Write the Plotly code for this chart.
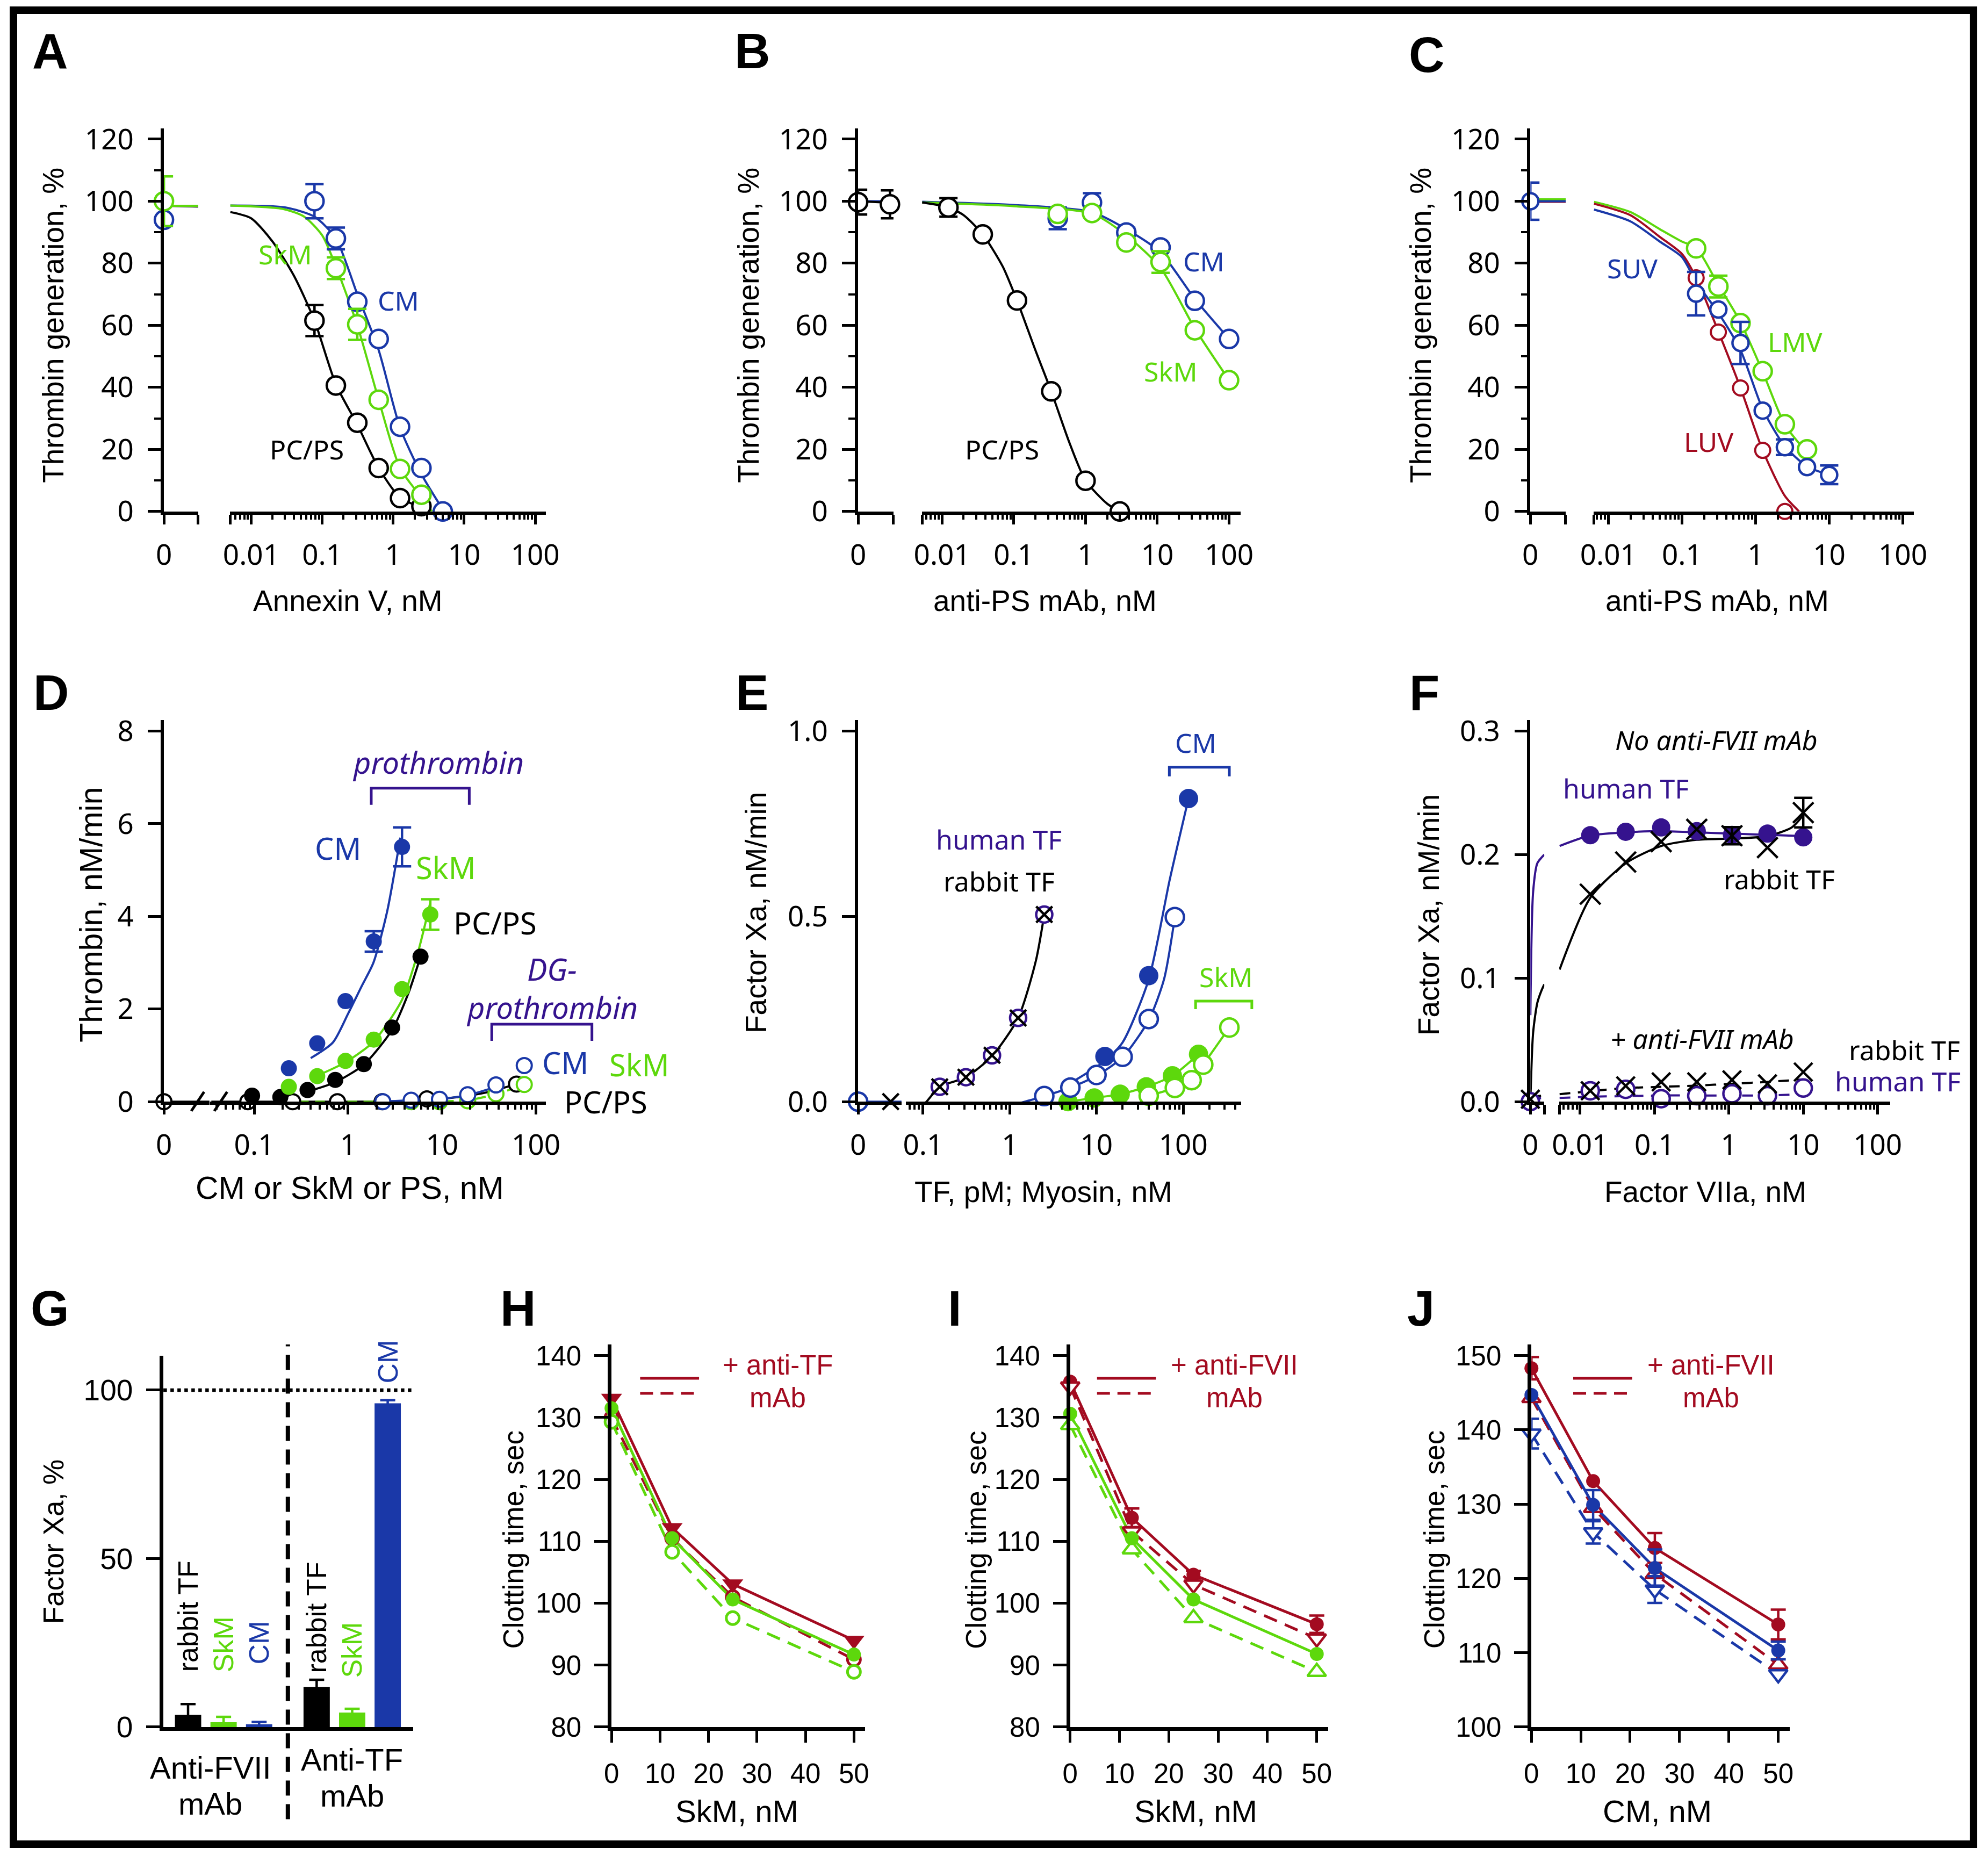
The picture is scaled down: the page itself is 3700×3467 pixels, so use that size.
import math
import plotly.graph_objects as go

W, H = 3700, 3467
# the page photograph comes out slightly inset and scaled; positions below are
# given in reference pixels and mapped through this correction
SX, OX = 0.989, 14
SY, OY = 0.986, 14

BLUE = "#1a38a8"
GREEN = "#5dd80c"
RED = "#a30b20"
PURPLE = "#35138e"
BLACK = "#000000"

SANS = "Noto Sans"
ARIAL = "Liberation Sans"

# ======================
# DATA
# ======================
# A - Annexin V
a_pcps_x = [0.078, 0.156, 0.3125, 0.625, 1.25, 2.5]
a_pcps_y = [61.5, 40.6, 28.6, 14.0, 4.3, 1.7]
a_pcps_err = [5, None, None, None, None, None]
a_skm_x = [0, 0.156, 0.3125, 0.625, 1.25, 2.5]
a_skm_y = [100, 78.4, 60.3, 36.0, 13.7, 5.4]
a_skm_err = [8, 3.5, 5, None, None, None]
a_cm_x = [0, 0.078, 0.156, 0.3125, 0.625, 1.25, 2.5, 5]
a_cm_y = [94, 100, 88, 67.6, 55.6, 27.3, 14, 0]
a_cm_err = [None, 5.5, 3.5, None, None, None, None, None]
a_pcps_fit_x = [0, 0.001, 0.0051, 0.01, 0.02, 0.04, 0.078, 0.156, 0.3125, 0.625, 1.25, 2.5, 3.2]
a_pcps_fit_y = [98.5, 98.3, 96.5, 94.5, 87, 76, 61.5, 41, 28, 14, 4.5, 1.2, 0]
a_skm_fit_x = [0, 0.001, 0.0051, 0.028, 0.056, 0.1, 0.156, 0.3125, 0.625, 1.25, 2.5, 3.5]
a_skm_fit_y = [98.5, 98.5, 98.6, 97.5, 95, 89, 79, 60, 36, 14, 4.5, 0]
a_cm_fit_x = [0.0051, 0.03, 0.078, 0.156, 0.3125, 0.625, 1.25, 2.5, 5.2]
a_cm_fit_y = [98.6, 98, 95, 88, 70, 52, 27, 12, 0]

# B - anti-PS mAb
b_pcps_x = [0, 0.0009, 0.0123, 0.037, 0.111, 0.333, 1, 3]
b_pcps_y = [99.7, 99, 98, 89.3, 68, 38.7, 9.9, 0]
b_pcps_err = [4, 4.5, 3, None, None, None, None, None]
b_myo_x = [0.41, 1.23, 3.7, 11.1, 33.3, 100]
b_cm_y = [94.5, 99.6, 89.9, 85.1, 67.9, 55.6]
b_cm_err = [3.5, 3, 1.5, None, None, None]
b_skm_y = [95.9, 96.2, 86.7, 80.4, 58.4, 42.3]
b_skm_err = [None, None, None, 3.5, None, None]
b_pcps_fit_x = [0, 0.0009, 0.0053, 0.0123, 0.02, 0.037, 0.07, 0.111, 0.2, 0.333, 0.6, 1, 2, 3]
b_pcps_fit_y = [100, 99.5, 99.6, 98, 95.5, 89.3, 79, 68, 52, 38.7, 22, 10, 2.5, 0]
b_cm_fit_x = [0, 0.0009, 0.0053, 0.1, 1.23, 3.7, 11.1, 33.3, 100]
b_cm_fit_y = [100, 100, 99.8, 98.8, 96.5, 91, 83.5, 68.5, 55.6]
b_skm_fit_x = [0.0053, 0.1, 1.23, 3.7, 11.1, 33.3, 100]
b_skm_fit_y = [99.6, 98.4, 96, 89, 78.5, 59, 42.3]

# C - vesicle size
c_luv_x = [0.156, 0.3125, 0.625, 1.25, 2.5]
c_luv_y = [75.3, 57.8, 39.8, 19.7, 0]
c_suv_x = [0, 0.156, 0.3125, 0.625, 1.25, 2.5, 5, 10]
c_suv_y = [100, 70.2, 65.1, 54.3, 32.5, 20.7, 14.3, 11.8]
c_suv_err = [6, 7, None, 6.8, None, 2.5, None, 3]
c_lmv_x = [0.156, 0.3125, 0.625, 1.25, 2.5, 5]
c_lmv_y = [84.8, 72.5, 60.7, 45.2, 28.1, 20]
c_lmv_err = [None, 3.5, None, None, None, None]
c_luv_fit_x = [0, 0.001, 0.0064, 0.02, 0.05, 0.1, 0.156, 0.3125, 0.625, 1.25, 2.5, 3.9]
c_luv_fit_y = [99.8, 99.8, 99.2, 95.5, 88.5, 83, 75.3, 58, 39.8, 19.7, 5, 0]
c_suv_fit_x = [0, 0.001, 0.0064, 0.02, 0.05, 0.1, 0.156, 0.3125, 0.625, 1.25, 2.5, 5, 10]
c_suv_fit_y = [100, 100, 97.3, 93.5, 87, 82, 74, 64, 52, 33, 21, 14.5, 11.8]
c_lmv_fit_x = [0, 0.001, 0.0064, 0.02, 0.05, 0.1, 0.156, 0.3125, 0.625, 1.25, 2.5, 5]
c_lmv_fit_y = [100.6, 100.6, 99.8, 96.5, 91, 87, 85, 73, 61, 45, 28, 19]

# D - thrombin formation, prothrombin (filled) and DG-prothrombin (open)
d_cm_x = [0.234, 0.469, 0.9375, 1.875, 3.75]
d_cm_y = [0.72, 1.26, 2.17, 3.46, 5.5]
d_cm_err = [None, None, None, 0.22, 0.42]
d_skm_x = [0.234, 0.469, 0.9375, 1.875, 3.75, 7.5]
d_skm_y = [0.32, 0.55, 0.88, 1.34, 2.43, 4.04]
d_skm_err = [None, None, None, None, None, 0.33]
d_pcps_x = [0.095, 0.19, 0.37, 0.73, 1.47, 2.94, 5.9]
d_pcps_y = [0.13, 0.10, 0.25, 0.47, 0.81, 1.60, 3.13]
d_cm_fit_x = [0.40, 0.69, 1.0, 1.4, 1.86, 2.6, 3.6]
d_cm_fit_y = [0.94, 1.28, 1.9, 2.5, 3.0, 4.1, 5.7]
d_skm_fit_x = [0.40, 0.9375, 1.875, 3.75, 5.5, 7.5]
d_skm_fit_y = [0.5, 0.85, 1.3, 2.2, 3.2, 4.3]
d_pcps_fit_x = [0.37, 0.73, 1.47, 2.94, 4.4, 5.9]
d_pcps_fit_y = [0.22, 0.42, 0.80, 1.55, 2.35, 3.13]
d_dg_pcps_x = [0, 0.0857, 0.257, 0.77, 2.3, 6.9, 62]
d_dg_pcps_y = [0, 0, 0, 0, 0, 0.06, 0.38]
d_dg_cm_x = [2.34, 4.69, 9.4, 18.75, 37.5, 75]
d_dg_cm_y = [0, 0.03, 0.05, 0.15, 0.36, 0.78]
d_dg_skm_x = [4.69, 9.4, 18.75, 37.5, 75]
d_dg_skm_y = [0, 0, 0.02, 0.17, 0.37]
d_dg_pcps_fit_x = [0, 0.03, 0.035, 5, 15, 30, 62]
d_dg_pcps_fit_y = [0, 0, 0, 0.02, 0.1, 0.2, 0.38]
d_dg_cm_fit_x = [2.34, 4.69, 9.4, 18.75, 37.5]
d_dg_cm_fit_y = [0, 0.03, 0.06, 0.14, 0.32]
d_dg_skm_fit_x = [0.3, 4.69, 9.4, 18.75, 37.5, 75]
d_dg_skm_fit_y = [0, 0, 0.005, 0.03, 0.16, 0.37]

# E - factor Xa generation vs TF / myosin
e_tf_x = [0.156, 0.3125, 0.625, 1.25, 2.5]
e_human_y = [0.04, 0.066, 0.125, 0.226, 0.505]
e_rabbit_x = [0.045, 0.156, 0.3125, 0.625, 1.25, 2.5]
e_rabbit_y = [0, 0.04, 0.066, 0.125, 0.226, 0.505]
e_rabbit_fit_x = [0.07, 0.1, 0.156, 0.3125, 0.625, 1.25, 2.0, 2.5]
e_rabbit_fit_y = [-0.03, -0.01, 0.04, 0.066, 0.123, 0.226, 0.38, 0.505]
e_cm_open_x = [0, 1.25, 2.5, 5, 10, 20, 40, 80]
e_cm_open_y = [0, -0.005, 0.015, 0.038, 0.072, 0.121, 0.223, 0.498]
e_cm_open_fit_x = [0, 0.06, 1.25, 2.5, 5, 10, 20, 40, 60, 80]
e_cm_open_fit_y = [0, 0, -0.005, 0.015, 0.038, 0.07, 0.12, 0.22, 0.33, 0.498]
e_cm_fill_x = [12.5, 40, 115]
e_cm_fill_y = [0.122, 0.34, 0.818]
e_cm_fill_fit_x = [5, 12.5, 20, 40, 70, 115]
e_cm_fill_fit_y = [0.05, 0.11, 0.16, 0.33, 0.6, 0.818]
e_skm_fill_x = [4.7, 9.4, 18.75, 37.5, 75, 150]
e_skm_fill_y = [0, 0.01, 0.02, 0.04, 0.07, 0.128]
e_skm_open_x = [40, 80, 125, 170, 340]
e_skm_open_y = [0.016, 0.037, 0.058, 0.1, 0.2]

# F - factor VIIa titration
f_x = [0.0137, 0.041, 0.123, 0.37, 1.1, 3.3, 10]
f_human_y = [0.2157, 0.2185, 0.222, 0.219, 0.216, 0.217, 0.214]
f_rabbit_y = [0.168, 0.194, 0.2105, 0.2205, 0.2153, 0.2057, 0.234]
f_rabbit_err = [None, None, None, None, 0.007, None, 0.012]
f_mab_x = [0, 0.0137, 0.041, 0.123, 0.37, 1.1, 3.3, 10]
f_human_mab_y = [0, 0.0088, 0.010, 0.0024, 0.0048, 0.0064, 0.0048, 0.011]
f_rabbit_mab_y = [0.002, 0.0088, 0.0128, 0.016, 0.016, 0.0176, 0.0144, 0.024]
f_human_fit_x = [0, 0.0002, 0.0005, 0.001, 0.0053, 0.0137, 0.041, 0.123, 0.37, 1.1, 3.3, 10]
f_human_fit_y = [0.07, 0.17, 0.193, 0.2, 0.207, 0.2155, 0.218, 0.219, 0.218, 0.217, 0.216, 0.215]
f_rabbit_fit_x = [0, 0.0002, 0.0005, 0.0008, 0.001, 0.0053, 0.0137, 0.041, 0.123, 0.37, 1.1, 3.3, 7, 10]
f_rabbit_fit_y = [0, 0.056, 0.08, 0.09, 0.095, 0.107, 0.165, 0.193, 0.207, 0.212, 0.213, 0.215, 0.222, 0.232]
f_mab_fit_x = [0, 0.001, 0.0053, 0.0137, 0.041, 0.123, 0.37, 1.1, 3.3, 10]
f_rabbit_mab_fit_y = [0.004, 0.005, 0.006, 0.0085, 0.011, 0.012, 0.013, 0.0145, 0.016, 0.018]
f_human_mab_fit_y = [0.002, 0.003, 0.003, 0.004, 0.0045, 0.005, 0.005, 0.005, 0.005, 0.006]

# G - inhibition by antibodies
g_groups = ["Anti-FVII", "Anti-TF"]
g_labels = ["rabbit TF", "SkM", "CM", "rabbit TF", "SkM", "CM"]
g_vals = [3.6, 1.4, 0.8, 11.9, 4.3, 96.1]
g_errs = [3.2, 1.6, 0.7, 2.1, 1.1, 0.9]

# H, I, J - clotting times
hij_x = [0, 12.5, 25, 50]
h_red_fill = [133.1, 112.2, 103.1, 94.0]
h_red_open = [130.0, 110.5, 101.0, 90.9]
h_grn_fill = [131.5, 110.5, 100.6, 91.7]
h_grn_open = [129.3, 108.3, 97.6, 88.9]
i_red_fill = [135.8, 113.8, 104.6, 96.6]
i_red_fill_err = [None, 1.5, 0.6, 1.4]
i_red_open = [135.0, 111.6, 103.0, 94.3]
i_grn_fill = [130.6, 110.5, 100.6, 91.8]
i_grn_open = [128.8, 108.7, 97.6, 88.9]
j_red_fill = [148.3, 133.1, 124.1, 113.8]
j_red_fill_err = [1.5, None, 2.0, 2.0]
j_red_open = [144.3, 129.5, 120.6, 108.4]
j_blu_fill = [144.7, 129.9, 121.4, 110.3]
j_blu_fill_err = [None, 2.0, 2.5, 1.2]
j_blu_open = [139.5, 126.2, 118.5, 107.1]
j_blu_open_err = [2.0, 1.5, 1.8, None]

# ======================
# HELPERS
# ======================
fig = go.Figure()
layout = dict(width=W, height=H, autosize=False, margin=dict(l=0, r=0, t=0, b=0, pad=0),
              paper_bgcolor="white", plot_bgcolor="rgba(0,0,0,0)",
              showlegend=False, font=dict(family=SANS, color=BLACK))
annotations = []
shapes = []


def px(x):
    return (x - OX) / SX / W


def py(y):
    return 1 - (y - OY) / SY / H


def ref(kind, n):
    return kind if n == 1 else f"{kind}{n}"


def key(kind, n):
    return f"{kind}axis" if n == 1 else f"{kind}axis{n}"


LINE = dict(showline=True, linecolor=BLACK, showgrid=False, zeroline=False,
            ticks="outside", tickcolor=BLACK)


def broken_panel(ny, nl, nr, left_px, right_px, lmax, log_rng, ybot, ytop, y_rng, ydt,
                 yminor=None, yfmt=None, stub_tick=True, start_tick=True):
    tf = dict(family=SANS, size=53, color=BLACK)
    yax = dict(LINE, domain=[py(ybot), py(ytop)], range=y_rng, anchor=ref("x", nl),
               tickmode="linear", tick0=0, dtick=ydt, linewidth=5.5, tickwidth=4.5,
               ticklen=24, tickfont=tf, ticklabelstandoff=16)
    if yminor:
        yax["minor"] = dict(dtick=yminor, ticklen=12, tickwidth=4, ticks="outside",
                            tickcolor=BLACK, showgrid=False)
    if yfmt:
        yax["tickformat"] = yfmt
    layout[key("y", ny)] = yax

    tv = [0, lmax * 0.999] if stub_tick else [0]
    layout[key("x", nl)] = dict(LINE, domain=[px(left_px[0]), px(left_px[1])], range=[0, lmax],
                                anchor=ref("y", ny), tickmode="array", tickvals=tv,
                                ticktext=["0", ""][:len(tv)], linewidth=5.5, tickwidth=4.5,
                                ticklen=18, tickfont=tf, ticklabelstandoff=12)
    lo, hi = log_rng
    majors = [10.0 ** k for k in range(math.ceil(lo), math.floor(hi) + 1)]
    minors = [m * 10.0 ** k for k in range(math.floor(lo), math.ceil(hi))
              for m in range(2, 10) if lo < math.log10(m) + k < hi]
    tv = list(majors)
    tt = [f"{v:g}" for v in majors]
    if start_tick:
        tv = [10 ** (lo + 0.004)] + tv
        tt = [""] + tt
    layout[key("x", nr)] = dict(LINE, type="log", domain=[px(right_px[0]), px(right_px[1])],
                                range=[lo, hi], anchor=ref("y", ny), tickmode="array",
                                tickvals=tv, ticktext=tt, linewidth=5.5, tickwidth=4.5,
                                ticklen=18, tickfont=tf, ticklabelstandoff=12,
                                minor=dict(tickmode="array", tickvals=minors, ticklen=9,
                                           tickwidth=3.5, ticks="outside", tickcolor=BLACK,
                                           showgrid=False))
    return dict(y=ref("y", ny), left=ref("x", nl), right=ref("x", nr), lmax=lmax)


def linear_panel(ny, nx, x_px, x_rng, ybot, ytop, y_rng, ydt, xdt=None):
    tf = dict(family=ARIAL, size=51, color=BLACK)
    layout[key("y", ny)] = dict(LINE, domain=[py(ybot), py(ytop)], range=y_rng,
                                anchor=ref("x", nx), tickmode="linear", tick0=0, dtick=ydt,
                                linewidth=6.5, tickwidth=5, ticklen=25, tickfont=tf,
                                ticklabelstandoff=14)
    xax = dict(LINE, domain=[px(x_px[0]), px(x_px[1])], range=x_rng, anchor=ref("y", ny),
               linewidth=6.5, tickfont=tf)
    if xdt:
        xax.update(tickmode="linear", tick0=0, dtick=xdt, tickwidth=5, ticklen=22,
                   ticklabelstandoff=14)
    else:
        xax.update(ticks="", showticklabels=False)
    layout[key("x", nx)] = xax
    return dict(y=ref("y", ny), x=ref("x", nx))


def parts(p, xs, *cols):
    if "left" not in p:
        return [(p["x"], list(xs), [list(c) for c in cols])]
    out = []
    for ax, on_left in ((p["left"], True), (p["right"], False)):
        idx = [i for i, v in enumerate(xs) if (v <= p["lmax"]) == on_left]
        if idx:
            out.append((ax, [xs[i] for i in idx], [[c[i] for i in idx] for c in cols]))
    return out


def curve(p, xs, ys, color, width=4, dash="solid", shape="spline"):
    for ax, sx, (sy,) in parts(p, xs, ys):
        fig.add_trace(go.Scatter(x=sx, y=sy, xaxis=ax, yaxis=p["y"], mode="lines",
                                 line=dict(color=color, width=width, dash=dash, shape=shape,
                                           smoothing=0.7),
                                 hoverinfo="skip"))


def points(p, xs, ys, color, symbol="circle", size=34, filled=False, err=None, lw=4.5,
           cap=17, errw=4.5):
    if err is not None:
        for ax, sx, (sy, se) in parts(p, xs, ys, err):
            keep = [i for i, e in enumerate(se) if e]
            if keep:
                fig.add_trace(go.Scatter(
                    x=[sx[i] for i in keep], y=[sy[i] for i in keep], xaxis=ax, yaxis=p["y"],
                    mode="markers", marker=dict(size=1, color="rgba(0,0,0,0)"),
                    error_y=dict(type="data", array=[se[i] for i in keep], color=color,
                                 thickness=errw, width=cap),
                    cliponaxis=False, hoverinfo="skip"))
    for ax, sx, (sy,) in parts(p, xs, ys):
        if symbol.startswith("x"):
            marker = dict(symbol=symbol, size=size, line=dict(color=color, width=lw))
        else:
            marker = dict(symbol=symbol, size=size, color=color if filled else "white",
                          line=dict(color=color, width=lw))
        fig.add_trace(go.Scatter(x=sx, y=sy, xaxis=ax, yaxis=p["y"], mode="markers",
                                 marker=marker, cliponaxis=False, hoverinfo="skip"))


def text(s, x, y, color=BLACK, size=50, family=SANS, angle=0, xref="paper"):
    annotations.append(dict(text=s, x=px(x) if xref == "paper" else x, y=py(y),
                            xref=xref, yref="paper", showarrow=False, textangle=angle,
                            xanchor="center", yanchor="middle",
                            font=dict(family=family, size=size, color=color)))


def title(s, x, y, size=55, angle=0):
    text(s, x, y, size=size, family=ARIAL, angle=angle)


def bracket(x0, x1, ytop, ybot, color):
    shapes.append(dict(type="path", xref="paper", yref="paper",
                       path=f"M {px(x0)},{py(ybot)} L {px(x0)},{py(ytop)} "
                            f"L {px(x1)},{py(ytop)} L {px(x1)},{py(ybot)}",
                       line=dict(color=color, width=5)))


def seg(x0, y0, x1, y1, color=BLACK, width=5, dash="solid"):
    shapes.append(dict(type="line", xref="paper", yref="paper", x0=px(x0), y0=py(y0),
                       x1=px(x1), y1=py(y1), line=dict(color=color, width=width, dash=dash)))


# ======================
# PANELS A - C
# ======================
pA = broken_panel(1, 1, 2, (295, 359), (418, 1008), 0.001, (-2.30, 2.15),
                  948.3, 234.7, [0, 123.4], 20, yminor=10)
pB = broken_panel(2, 3, 4, (1591, 1657), (1710, 2305), 0.001, (-2.28, 2.16),
                  948.3, 234.7, [0, 123.4], 20, yminor=10)
pC = broken_panel(3, 5, 6, (2846, 2912), (2964, 3562), 0.001, (-2.20, 2.15),
                  948.3, 234.7, [0, 123.4], 20, yminor=10)

curve(pA, a_pcps_fit_x, a_pcps_fit_y, BLACK)
curve(pA, a_cm_fit_x, a_cm_fit_y, BLUE)
curve(pA, a_skm_fit_x, a_skm_fit_y, GREEN)
points(pA, a_pcps_x, a_pcps_y, BLACK, err=a_pcps_err)
points(pA, a_cm_x, a_cm_y, BLUE, err=a_cm_err)
points(pA, a_skm_x, a_skm_y, GREEN, err=a_skm_err)

curve(pB, b_cm_fit_x, b_cm_fit_y, BLUE)
curve(pB, b_skm_fit_x, b_skm_fit_y, GREEN)
curve(pB, b_pcps_fit_x, b_pcps_fit_y, BLACK)
points(pB, b_myo_x, b_cm_y, BLUE, err=b_cm_err)
points(pB, b_myo_x, b_skm_y, GREEN, err=b_skm_err)
points(pB, b_pcps_x, b_pcps_y, BLACK, err=b_pcps_err)

curve(pC, c_lmv_fit_x, c_lmv_fit_y, GREEN)
curve(pC, c_luv_fit_x, c_luv_fit_y, RED)
curve(pC, c_suv_fit_x, c_suv_fit_y, BLUE)
points(pC, c_lmv_x, c_lmv_y, GREEN, err=c_lmv_err)
points(pC, c_luv_x, c_luv_y, RED, size=28, lw=4)
points(pC, c_suv_x, c_suv_y, BLUE, size=30, err=c_suv_err)

# ======================
# PANELS D - F
# ======================
pD = broken_panel(4, 7, 8, (295, 380), (381, 1008), 0.03, (-1.47, 2.105),
                  2048.4, 1337, [0, 8.24], 2, stub_tick=False, start_tick=False)
pE = broken_panel(5, 9, 10, (1591, 1672), (1680, 2306), 0.06, (-1.198, 2.667),
                  2048.4, 1337, [0, 1.03], 0.5, yfmt=".1f", stub_tick=False, start_tick=False)
pF = broken_panel(6, 11, 12, (2846, 2872), (2900, 3518), 0.001, (-2.28, 2.17),
                  2048.4, 1337, [0, 0.309], 0.1, yfmt=".1f")

curve(pD, d_dg_pcps_fit_x, d_dg_pcps_fit_y, BLACK)
curve(pD, d_dg_skm_fit_x, d_dg_skm_fit_y, GREEN, dash="18px,12px")
curve(pD, d_dg_cm_fit_x, d_dg_cm_fit_y, BLUE)
curve(pD, d_cm_fit_x, d_cm_fit_y, BLUE)
curve(pD, d_skm_fit_x, d_skm_fit_y, GREEN)
curve(pD, d_pcps_fit_x, d_pcps_fit_y, BLACK)
points(pD, d_dg_pcps_x, d_dg_pcps_y, BLACK, size=28, lw=4)
points(pD, d_dg_skm_x, d_dg_skm_y, GREEN, size=28, lw=4)
points(pD, d_dg_cm_x, d_dg_cm_y, BLUE, size=28, lw=4)
points(pD, d_pcps_x, d_pcps_y, BLACK, size=30, filled=True, lw=0)
points(pD, d_skm_x, d_skm_y, GREEN, size=30, filled=True, lw=0, err=d_skm_err)
points(pD, d_cm_x, d_cm_y, BLUE, size=30, filled=True, lw=0, err=d_cm_err)

curve(pE, e_rabbit_fit_x, e_rabbit_fit_y, BLACK)
curve(pE, e_skm_fill_x, e_skm_fill_y, GREEN)
curve(pE, e_skm_open_x, e_skm_open_y, GREEN)
curve(pE, e_cm_fill_fit_x, e_cm_fill_fit_y, BLUE)
curve(pE, e_cm_open_fit_x, e_cm_open_fit_y, BLUE)
points(pE, e_skm_fill_x, e_skm_fill_y, GREEN, size=36, filled=True, lw=0)
points(pE, e_skm_open_x, e_skm_open_y, GREEN, size=34)
points(pE, e_cm_fill_x, e_cm_fill_y, BLUE, size=36, filled=True, lw=0)
points(pE, e_cm_open_x, e_cm_open_y, BLUE, size=34)
points(pE, e_tf_x, e_human_y, PURPLE, size=30)
points(pE, e_rabbit_x, e_rabbit_y, BLACK, symbol="x-thin", size=30, lw=4.5)

curve(pF, f_mab_fit_x, f_rabbit_mab_fit_y, BLACK, dash="20px,14px")
curve(pF, f_mab_fit_x, f_human_mab_fit_y, PURPLE, dash="20px,14px")
curve(pF, f_rabbit_fit_x, f_rabbit_fit_y, BLACK)
curve(pF, f_human_fit_x, f_human_fit_y, PURPLE)
points(pF, f_mab_x, f_human_mab_y, PURPLE, size=32)
points(pF, f_mab_x, f_rabbit_mab_y, BLACK, symbol="x-thin", size=34, lw=4.5)
points(pF, f_x, f_human_y, PURPLE, size=34, filled=True, lw=0)
points(pF, f_x, f_rabbit_y, BLACK, symbol="x-thin", size=38, lw=4.5, err=f_rabbit_err)

# ======================
# PANEL G - bars
# ======================
pG = linear_panel(7, 13, (294, 760.5), [0.306, 7.34], 3214, 2522, [0, 110.2], 50)
layout["yaxis7"]["tickfont"] = dict(family=ARIAL, size=55, color=BLACK)
g_colors = [BLACK, GREEN, BLUE, BLACK, GREEN, BLUE]
g_pos = [i + 1 + (0.62 if i >= 3 else 0) for i in range(len(g_vals))]
for xp, v, e, c in zip(g_pos, g_vals, g_errs, g_colors):
    fig.add_trace(go.Bar(x=[xp], y=[v], width=0.74, xaxis=pG["x"], yaxis=pG["y"],
                         marker=dict(color=c, line=dict(width=0)),
                         error_y=dict(type="data", array=[e], color=c, thickness=4.5, width=14),
                         hoverinfo="skip"))
label_y = [3008, 3060, 3057, 3010, 3070, 2533]
for xp, lab, c, ly in zip(g_pos, g_labels, g_colors, label_y):
    text(lab, xp, ly, color=c, size=52, family=ARIAL, angle=-90, xref=pG["x"])
g_split = (g_pos[2] + g_pos[3]) / 2
shapes.append(dict(type="line", xref=pG["x"], yref="paper", x0=g_split, x1=g_split,
                   y0=py(3386), y1=py(2501), line=dict(color=BLACK, width=8, dash="28px,16px")))
shapes.append(dict(type="line", xref="x13 domain", yref=pG["y"], x0=0, x1=1, y0=100, y1=100,
                   line=dict(color=BLACK, width=6.5, dash="dot")))
text(g_groups[0], 382, 3290, size=58, family=ARIAL)
text("mAb", 382, 3357, size=58, family=ARIAL)
text(g_groups[1], 646, 3275, size=58, family=ARIAL)
text("mAb", 646, 3342, size=58, family=ARIAL)

# ======================
# PANELS H - J - clotting
# ======================
pH = linear_panel(8, 14, (1130.6, 1604), [0, 52.3], 3214, 2501, [80, 141.8], 10, 10)
pI = linear_panel(9, 15, (1986.9, 2468.4), [0, 52.3], 3214, 2501, [80, 141.8], 10, 10)
pJ = linear_panel(10, 16, (2848, 3330), [0, 52.3], 3214, 2501, [100, 151.5], 10, 10)
DASH = "26px,16px"

curve(pH, hij_x, h_red_fill, RED, width=5, shape="linear")
curve(pH, hij_x, h_red_open, RED, width=5, dash=DASH, shape="linear")
curve(pH, hij_x, h_grn_fill, GREEN, width=5, shape="linear")
curve(pH, hij_x, h_grn_open, GREEN, width=5, dash=DASH, shape="linear")
points(pH, hij_x, h_red_open, RED, size=24, lw=5)
points(pH, hij_x, h_red_fill, RED, symbol="triangle-down", size=34, filled=True, lw=0)
points(pH, hij_x, h_grn_open, GREEN, size=24, lw=5)
points(pH, hij_x, h_grn_fill, GREEN, size=26, filled=True, lw=0)

curve(pI, hij_x, i_red_fill, RED, width=5, shape="linear")
curve(pI, hij_x, i_red_open, RED, width=5, dash=DASH, shape="linear")
curve(pI, hij_x, i_grn_fill, GREEN, width=5, shape="linear")
curve(pI, hij_x, i_grn_open, GREEN, width=5, dash=DASH, shape="linear")
points(pI, hij_x, i_red_fill, RED, size=26, filled=True, lw=0, err=i_red_fill_err, cap=14)
points(pI, hij_x, i_red_open, RED, symbol="triangle-down", size=30, lw=4.5)
points(pI, hij_x, i_grn_open, GREEN, symbol="triangle-up", size=30, lw=4.5)
points(pI, hij_x, i_grn_fill, GREEN, size=26, filled=True, lw=0)

curve(pJ, hij_x, j_red_fill, RED, width=5, shape="linear")
curve(pJ, hij_x, j_red_open, RED, width=5, dash=DASH, shape="linear")
curve(pJ, hij_x, j_blu_fill, BLUE, width=5, shape="linear")
curve(pJ, hij_x, j_blu_open, BLUE, width=5, dash=DASH, shape="linear")
points(pJ, hij_x, j_red_open, RED, symbol="triangle-up", size=30, lw=4.5)
points(pJ, hij_x, j_red_fill, RED, size=26, filled=True, lw=0, err=j_red_fill_err, cap=14)
points(pJ, hij_x, j_blu_open, BLUE, symbol="triangle-down", size=30, lw=4.5,
       err=j_blu_open_err, cap=14)
points(pJ, hij_x, j_blu_fill, BLUE, size=26, filled=True, lw=0, err=j_blu_fill_err, cap=14)

# legend keys in H - J
for x0, mab, tx in ((1184, "+ anti-TF", 1441), (2037, "+ anti-FVII", 2294), (2926, "+ anti-FVII", 3183)):
    seg(x0, 2564, x0 + 110, 2564, RED, 5)
    seg(x0, 2592, x0 + 101, 2592, RED, 5, dash="24px,14px")
    text(mab, tx, 2540, color=RED, size=51, family=ARIAL)
    text("mAb", tx, 2601, color=RED, size=51, family=ARIAL)

# ======================
# TEXT
# ======================
for s, x, y in [("A", 82, 90), ("B", 1393, 90), ("C", 2652, 97), ("D", 84, 1286),
                ("E", 1393, 1286), ("F", 2648, 1286), ("G", 82, 2434), ("H", 956, 2434),
                ("I", 1771, 2434), ("J", 2642, 2434)]:
    text(f"<b>{s}</b>", x, y, size=92, family=ARIAL)

for x in (88, 1386, 2641):
    title("Thrombin generation, %", x, 601, angle=-90)
title("Annexin V, nM", 638, 1115)
title("anti-PS mAb, nM", 1940, 1115)
title("anti-PS mAb, nM", 3195, 1115)
text("Thrombin, nM/min", 160, 1700, size=59, family=ARIAL, angle=-90)
text("CM or SkM or PS, nM", 642, 2210, size=59, family=ARIAL)
title("Factor Xa, nM/min", 1401, 1696, angle=-90)
title("TF, pM; Myosin, nM", 1937, 2217)
title("Factor Xa, nM/min", 2656, 1700, angle=-90)
title("Factor VIIa, nM", 3173, 2217)
title("Factor Xa, %", 89, 2869, size=53, angle=-90)
for x in (947, 1811, 2667):
    title("Clotting time, sec", x, 2865, size=53, angle=-90)
title("SkM, nM", 1365, 3371, size=58)
title("SkM, nM", 2221, 3371, size=58)
title("CM, nM", 3083, 3371, size=58)

# series labels
text("SkM", 522, 469, GREEN)
text("CM", 733, 555, BLUE)
text("PC/PS", 562, 832)
text("CM", 2236, 482, BLUE)
text("SkM", 2175, 687, GREEN)
text("PC/PS", 1860, 832)
text("SUV", 3036, 495, BLUE)
text("LMV", 3340, 632, GREEN)
text("LUV", 3179, 818, RED)

text("<i>prothrombin</i>", 807, 1415, PURPLE, size=56)
bracket(682, 865, 1464, 1495, PURPLE)
text("CM", 620, 1575, BLUE, size=56)
text("SkM", 821, 1612, GREEN, size=56)
text("PC/PS", 913, 1715, size=56)
text("<i>DG-</i>", 1020, 1801, PURPLE, size=56)
text("<i>prothrombin</i>", 1020, 1872, PURPLE, size=56)
bracket(907, 1094, 1904, 1935, PURPLE)
text("CM", 1044, 1975, BLUE, size=56)
text("SkM", 1182, 1979, GREEN, size=56)
text("PC/PS", 1120, 2048, size=56)
# D axis break marks
seg(346, 2066, 370, 2030, BLACK, 5)
seg(389, 2066, 413, 2030, BLACK, 5)

text("human TF", 1854, 1559, PURPLE)
text("rabbit TF", 1854, 1638)
text("CM", 2221, 1379, BLUE)
bracket(2172, 2284, 1425, 1442, BLUE)
text("SkM", 2278, 1816, GREEN)
bracket(2221, 2326, 1861, 1876, GREEN)

text("<i>No anti-FVII mAb</i>", 3193, 1374)
text("human TF", 3024, 1464, PURPLE)
text("rabbit TF", 3311, 1634)
text("<i>+ anti-FVII mAb</i>", 3167, 1931)
text("rabbit TF", 3544, 1952)
text("human TF", 3532, 2010, PURPLE)

# outer frame
shapes.append(dict(type="rect", xref="paper", yref="paper", x0=0, y0=0, x1=1, y1=1,
                   line=dict(color=BLACK, width=14)))

layout["annotations"] = annotations
layout["shapes"] = shapes
fig.update_layout(**layout)
fig.write_html("out.html", config={"displayModeBar": False},
               post_script="for (const el of [document.documentElement, document.body]) "
                           "{ el.style.margin = '0'; el.style.padding = '0'; "
                           "el.style.overflow = 'hidden'; }")
